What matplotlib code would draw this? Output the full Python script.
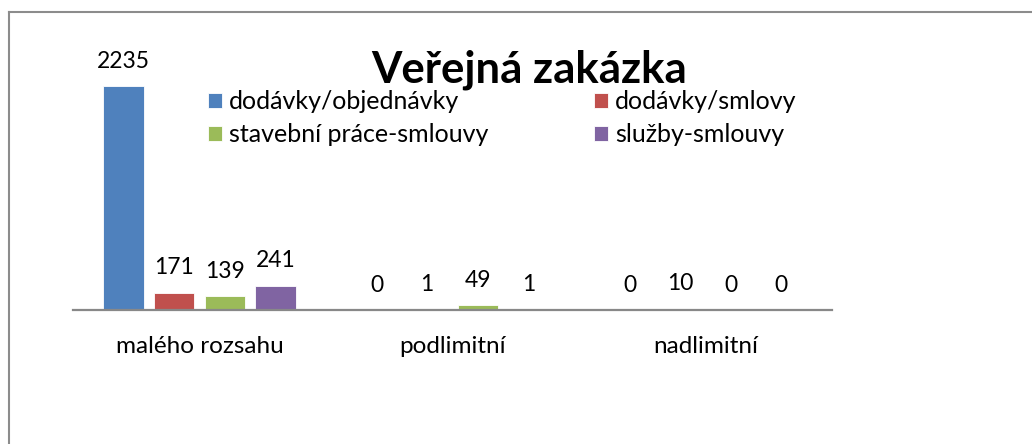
import matplotlib.pyplot as plt
import numpy as np

plt.rcParams['font.family'] = ['Lato', 'DejaVu Sans']

categories = ["malého rozsahu", "podlimitní", "nadlimitní"]
series_names = ["dodávky/objednávky", "dodávky/smlovy", "stavební práce-smlouvy", "služby-smlouvy"]
values = [
    [2235, 0, 0],    # dodávky/objednávky
    [171, 1, 10],    # dodávky/smlovy
    [139, 49, 0],    # stavební práce-smlouvy
    [241, 1, 0],     # služby-smlouvy
]
colors = ["#4F81BD", "#C0504D", "#9BBB59", "#8064A2"]

W, H = 1032, 444
fig = plt.figure(figsize=(W / 100, H / 100), dpi=100)

# axes placed so the baseline sits where the reference has it
ax = fig.add_axes([73 / W, (H - 310) / H, (832 - 73) / W, 250 / H])

x = np.arange(len(categories))
pitch = 0.2
width = 0.16
handles = []
for i, (name, vals, c) in enumerate(zip(series_names, values, colors)):
    pos = x + (i - 1.5) * pitch
    bars = ax.bar(pos, vals, width, color=c, label=name, edgecolor="white", linewidth=0.6)
    handles.append(bars)
    for p, v in zip(pos, vals):
        ax.annotate(str(v), (p, v), xytext=(0, 18), textcoords="offset points",
                    ha="center", va="center", fontsize=16.5)

ax.set_xlim(-0.5, len(categories) - 0.5)
ax.set_ylim(0, 2500)
ax.set_yticks([])
ax.set_xticks(x)
ax.set_xticklabels(categories, fontsize=17.5)
ax.tick_params(axis="x", length=0, pad=19)
for s in ["top", "right", "left"]:
    ax.spines[s].set_visible(False)
ax.spines["bottom"].set_color("#888888")
ax.spines["bottom"].set_linewidth(1.6)
ax.patch.set_alpha(0)

fig.text(529 / W, (H - 70) / H, "Veřejná zakázka", ha="center", va="center",
         fontsize=31.5, fontweight="bold")

# legend: two columns filled row by row, as in the reference
leg_kw = dict(loc="upper left", frameon=False, fontsize=18, handlelength=0.55,
              handleheight=0.55, handletextpad=0.3, labelspacing=0.4,
              borderaxespad=0, borderpad=0)
leg1 = fig.legend([handles[0], handles[2]], [series_names[0], series_names[2]],
                  bbox_to_anchor=(208 / W, (H - 90) / H), **leg_kw)
leg2 = fig.legend([handles[1], handles[3]], [series_names[1], series_names[3]],
                  bbox_to_anchor=(594 / W, (H - 90) / H), **leg_kw)

# chart-area border (left and top edges visible in reference)
fig.add_artist(plt.Line2D([9 / W, 9 / W], [0, (H - 12) / H], color="#8c8c8c", lw=1.5,
                          transform=fig.transFigure))
fig.add_artist(plt.Line2D([9 / W, 1], [(H - 12) / H, (H - 12) / H], color="#8c8c8c", lw=1.5,
                          transform=fig.transFigure))

fig.savefig("out.png", dpi=100)
